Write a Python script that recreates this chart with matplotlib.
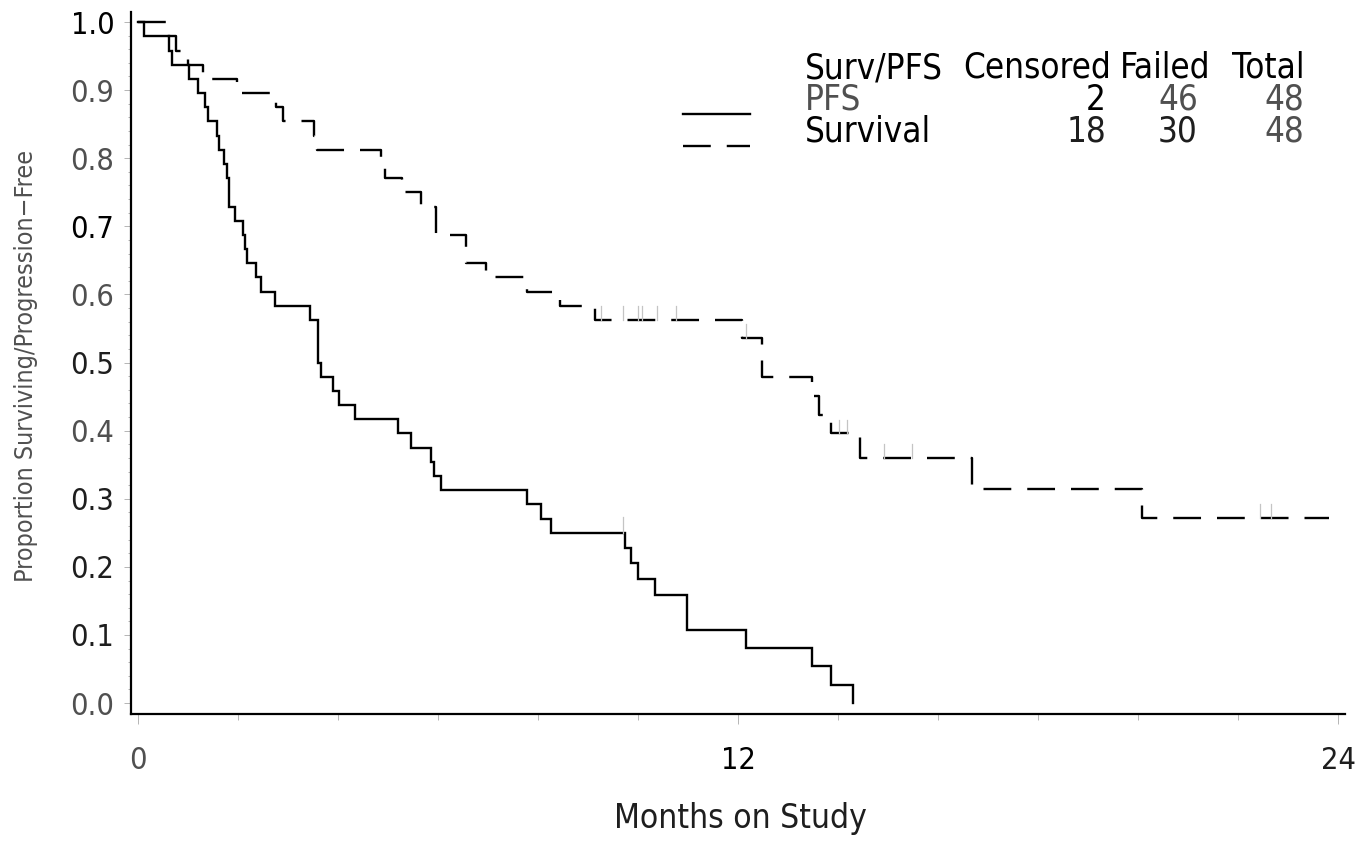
import matplotlib
matplotlib.use("Agg")
import matplotlib.pyplot as plt
from matplotlib import font_manager
from matplotlib.lines import Line2D
import numpy as np

# ---- data ----
pfs_t = [0, 0.12, 0.62, 0.68, 1.02, 1.2, 1.34, 1.4, 1.58, 1.62, 1.72, 1.78, 1.82,
         1.94, 2.1, 2.14, 2.18, 2.36, 2.46, 2.74, 3.44, 3.6, 3.66, 3.9, 4.02, 4.34,
         5.2, 5.46, 5.86, 5.92, 6.06, 7.78, 8.06, 8.26, 9.74, 9.86, 10.0, 10.34,
         10.98, 12.16, 13.48, 13.86, 14.3]
pfs_s = [1.0, 0.979, 0.958, 0.9375, 0.917, 0.896, 0.875, 0.854, 0.833, 0.8125,
         0.792, 0.771, 0.729, 0.708, 0.6875, 0.667, 0.646, 0.625, 0.604, 0.583,
         0.5625, 0.5, 0.479, 0.458, 0.4375, 0.417, 0.396, 0.375, 0.354, 0.333,
         0.3125, 0.292, 0.271, 0.25, 0.227, 0.205, 0.182, 0.159, 0.108, 0.081,
         0.054, 0.027, 0.0]
pfs_cens = [9.7]

surv_t = [0, 0.56, 0.76, 1.0, 1.3, 1.98, 2.76, 2.9, 3.52, 3.58, 4.86, 4.94, 5.28,
          5.66, 5.96, 6.56, 6.96, 7.78, 8.44, 9.14, 12.08, 12.48, 13.48, 13.62,
          13.86, 14.44, 16.68, 20.08, 23.82]
surv_s = [1.0, 0.979, 0.958, 0.9375, 0.917, 0.896, 0.875, 0.854, 0.833, 0.8125,
          0.792, 0.771, 0.75, 0.729, 0.6875, 0.646, 0.625, 0.604, 0.583, 0.5625,
          0.536, 0.479, 0.451, 0.423, 0.396, 0.36, 0.315, 0.272, 0.272]
surv_cens = [9.26, 9.7, 10.0, 10.08, 10.38, 10.76, 12.16, 14.02, 14.18, 14.92,
             15.48, 22.44, 22.66]

groups = ["PFS", "Survival"]
censored = ["2", "18"]
failed = ["46", "30"]
total = ["48", "48"]

y_ticks = [0.0, 0.1, 0.2, 0.3, 0.4, 0.5, 0.6, 0.7, 0.8, 0.9, 1.0]
y_labels = ["0.0", "0.1", "0.2", "0.3", "0.4", "0.5", "0.6", "0.7", "0.8", "0.9", "1.0"]
x_ticks = [0, 12, 24]

# ---- fonts ----
names = {f.name for f in font_manager.fontManager.ttflist}
if "Liberation Sans Narrow" in names:
    FONT, STRETCH = "Liberation Sans Narrow", "normal"
else:
    FONT, STRETCH = "DejaVu Sans", "condensed"
plt.rcParams["font.family"] = [FONT, "DejaVu Sans"]
plt.rcParams["font.stretch"] = STRETCH
plt.rcParams["lines.scale_dashes"] = False

BLACK = "#000000"
DARK = "#1e1e1e"
GREY = "#505050"

W, H = 1372, 842
fig = plt.figure(figsize=(W / 100, H / 100), dpi=100)
ax = fig.add_axes([131 / W, 1 - 714 / H, (1345 - 131) / W, (714 - 12) / H])


def step_value(times, vals, t):
    i = np.searchsorted(times, t, side="right") - 1
    return np.asarray(vals)[i]


ax.step(pfs_t, pfs_s, where="post", color="black", lw=1.7, solid_joinstyle="miter")
ax.step(surv_t, surv_s, where="post", color="black", lw=1.7, dashes=(20, 11.5))

for t in pfs_cens:
    v = step_value(pfs_t, pfs_s, t)
    ax.plot([t, t], [v, v + 0.023], color="#c4c4c4", lw=0.9)
for t in surv_cens:
    v = step_value(surv_t, surv_s, t)
    ax.plot([t, t], [v, v + 0.02], color="#c4c4c4", lw=0.9)

ax.set_xlim(-0.146, 24.13)
ax.set_ylim(-0.016, 1.0147)

for s in ["top", "right"]:
    ax.spines[s].set_visible(False)
for s in ["left", "bottom"]:
    ax.spines[s].set_linewidth(1.6)

ax.set_yticks(y_ticks)
ax.set_yticklabels(y_labels)
ax.set_yticks(np.arange(0, 1.001, 0.02), minor=True)
ax.set_xticks(x_ticks)
ax.set_xticklabels([str(v) for v in x_ticks])
ax.set_xticks(np.arange(0, 24.01, 2), minor=True)

ax.tick_params(axis="y", which="major", length=5, width=0.7, color="#b5b5b5",
               pad=7, labelsize=22)
ax.tick_params(axis="y", which="minor", length=2.2, width=0.7, color="#b5b5b5")
ax.tick_params(axis="x", which="major", length=7, width=0.7, color="#b5b5b5",
               pad=16, labelsize=22)
ax.tick_params(axis="x", which="minor", length=4.5, width=0.7, color="#b5b5b5")

ycol = {"1.0": BLACK, "0.7": BLACK, "0.5": DARK, "0.3": DARK, "0.2": DARK, "0.1": DARK}
for lab in ax.get_yticklabels():
    lab.set_color(ycol.get(lab.get_text(), GREY))
xcol = {"0": GREY, "12": BLACK, "24": DARK}
for lab in ax.get_xticklabels():
    lab.set_color(xcol.get(lab.get_text(), GREY))

fig.text(740 / W, 1 - 828 / H, "Months on Study", fontsize=24, color=DARK,
         ha="center", va="baseline")
fig.text(26 / W, 1 - 366 / H, "Proportion Surviving/Progression\u2212Free", fontsize=18,
         color=GREY, rotation=90, ha="center", va="center")

# ---- legend table ----
def ftext(x, y, s, color=BLACK, ha="left"):
    fig.text(x / W, 1 - y / H, s, fontsize=25, color=color, ha=ha, va="baseline")


ftext(805, 78, "Surv/PFS")
ftext(963, 78, "Censored")
ftext(1120, 78, "Failed")
ftext(1305, 78, "Total", ha="right")
row_y = [110, 141]
name_col = [GREY, BLACK]
cens_col = [BLACK, DARK]
fail_col = [GREY, DARK]
for i, g in enumerate(groups):
    ftext(805, row_y[i], g, color=name_col[i])
    ftext(1106, row_y[i], censored[i], color=cens_col[i], ha="right")
    ftext(1198, row_y[i], failed[i], color=fail_col[i], ha="right")
    ftext(1304, row_y[i], total[i], color=GREY, ha="right")

fig.add_artist(Line2D([683 / W, 750 / W], [1 - 114 / H, 1 - 114 / H], color="black",
                      lw=1.7, transform=fig.transFigure))
fig.add_artist(Line2D([683 / W, 750 / W], [1 - 146 / H, 1 - 146 / H], color="black",
                      lw=1.7, dashes=(20, 11.5), transform=fig.transFigure))

fig.savefig("out.png", dpi=100)
